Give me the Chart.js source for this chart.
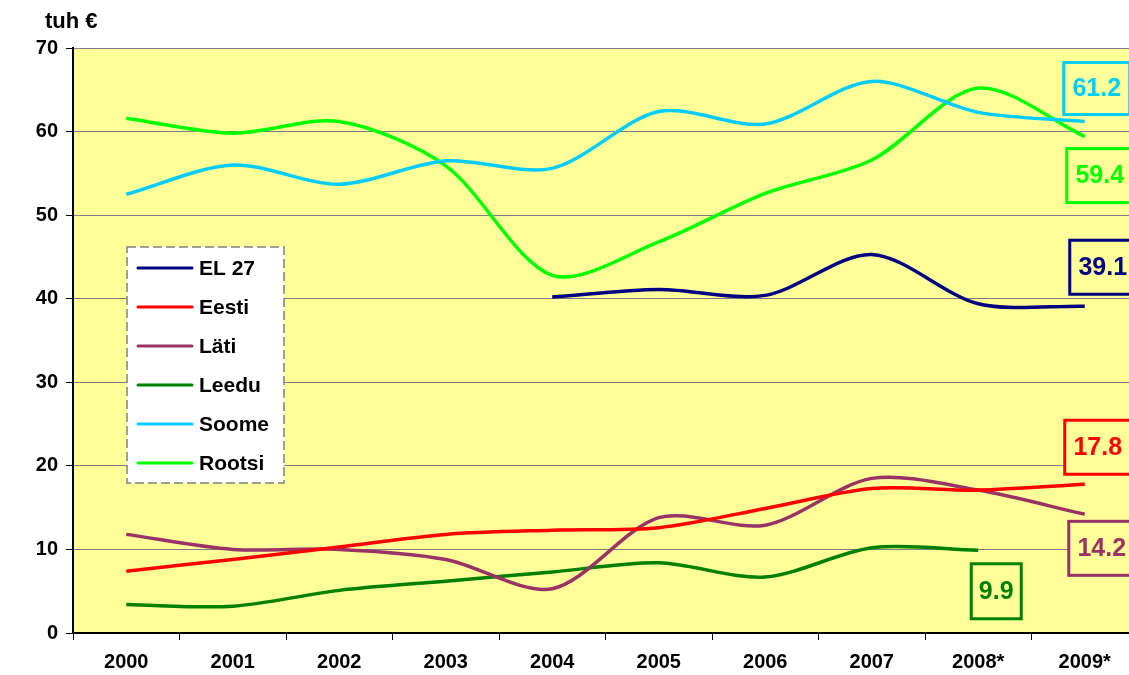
<!DOCTYPE html>
<html>
<head>
<meta charset="utf-8">
<script src="https://cdn.jsdelivr.net/npm/chart.js@4"></script>
<style>
    html, body { margin: 0; padding: 0; background: #fff; overflow: hidden; }
    #wrap { width: 1140px; height: 675px; }
</style>
</head>
<body>
<div id="wrap"><canvas id="lineChart" width="1140" height="675"></canvas></div>
<script>
// Years on the x axis
const years = ['2000', '2001', '2002', '2003', '2004', '2005', '2006', '2007', '2008*', '2009*'];

// Values in thousand euros
const el27   = [null, null, null, null, 40.2, 41.1, 40.4, 45.3, 39.4, 39.1];
const eesti  = [7.4, 8.8, 10.3, 11.8, 12.3, 12.6, 14.9, 17.3, 17.1, 17.8];
const lati   = [11.8, 10.0, 10.0, 8.8, 5.3, 13.8, 12.9, 18.5, 17.1, 14.2];
const leedu  = [3.4, 3.2, 5.1, 6.2, 7.3, 8.4, 6.7, 10.2, 9.9, null];
const soome  = [52.5, 56.0, 53.7, 56.5, 55.6, 62.4, 60.9, 66.0, 62.3, 61.2];
const rootsi = [61.6, 59.8, 61.2, 55.9, 42.8, 46.8, 52.6, 56.6, 65.2, 59.4];

const seriesNames = ['EL 27', 'Eesti', 'Läti', 'Leedu', 'Soome', 'Rootsi'];
const seriesColors = ['#000080', '#FF0000', '#993366', '#008000', '#00CCFF', '#00FF00'];

// where the boxed end value sits, relative to the last point (pixels)
const boxPlacement = [
    { dx: 18, dy: -39, w: 66, h: 54 },
    { dx: 13, dy: -37, w: 66, h: 54 },
    { dx: 17, dy: 34, w: 66, h: 54 },
    { dx: 18, dy: 41, w: 50, h: 55 },
    { dx: 12, dy: -33, w: 66, h: 52 },
    { dx: 15, dy: 39, w: 66, h: 54 }
];

const plotBg = '#FFFF99';
const fontFamily = '"Liberation Sans", Arial, sans-serif';

const plotBackground = {
    id: 'plotBackground',
    beforeDraw(chart) {
        const { ctx, chartArea: a } = chart;
        ctx.save();
        ctx.fillStyle = plotBg;
        ctx.fillRect(a.left, a.top, a.right - a.left, a.bottom - a.top);
        ctx.restore();
    }
};

const extras = {
    id: 'extras',
    afterDatasetsDraw(chart) {
        const ctx = chart.ctx;
        const xs = chart.scales.x, ys = chart.scales.y;
        ctx.save();

        // unit caption
        ctx.fillStyle = '#000';
        ctx.font = 'bold 22px ' + fontFamily;
        ctx.textAlign = 'left';
        ctx.textBaseline = 'middle';
        ctx.fillText('tuh €', 45, 22);

        // boxed end values
        chart.data.datasets.forEach((ds, i) => {
            let last = -1;
            ds.data.forEach((v, j) => { if (v !== null) last = j; });
            if (last < 0) return;
            const p = boxPlacement[i];
            const cx = xs.getPixelForValue(last) + p.dx;
            const cy = ys.getPixelForValue(ds.data[last]) + p.dy;
            ctx.fillStyle = plotBg;
            ctx.fillRect(cx - p.w / 2, cy - p.h / 2, p.w, p.h);
            ctx.lineWidth = 3;
            ctx.strokeStyle = ds.borderColor;
            ctx.strokeRect(cx - p.w / 2, cy - p.h / 2, p.w, p.h);
            ctx.fillStyle = ds.borderColor;
            ctx.font = 'bold 25px ' + fontFamily;
            ctx.textAlign = 'center';
            ctx.textBaseline = 'middle';
            ctx.fillText(ds.data[last].toFixed(1), cx, cy + 1);
        });

        // legend box
        const lx = 127, ly = 247, lw = 157, lh = 236;
        ctx.fillStyle = '#fff';
        ctx.fillRect(lx, ly, lw, lh);
        ctx.setLineDash([9, 4]);
        ctx.lineWidth = 1.5;
        ctx.strokeStyle = '#808080';
        ctx.strokeRect(lx, ly, lw, lh);
        ctx.setLineDash([]);
        chart.data.datasets.forEach((ds, i) => {
            const y = 268 + i * 39;
            ctx.strokeStyle = ds.borderColor;
            ctx.lineWidth = 3;
            ctx.lineCap = 'round';
            ctx.beginPath();
            ctx.moveTo(138, y);
            ctx.lineTo(192, y);
            ctx.stroke();
            ctx.fillStyle = '#000';
            ctx.font = 'bold 21px ' + fontFamily;
            ctx.textAlign = 'left';
            ctx.textBaseline = 'middle';
            ctx.fillText(ds.label, 199, y + 1);
        });
        ctx.restore();
    }
};

const allSeries = [el27, eesti, lati, leedu, soome, rootsi];

const ctx = document.getElementById('lineChart').getContext('2d');
new Chart(ctx, {
    type: 'line',
    data: {
        labels: years,
        datasets: allSeries.map((values, i) => ({
            label: seriesNames[i],
            data: values,
            borderColor: seriesColors[i],
            backgroundColor: seriesColors[i],
            borderWidth: 3.5,
            pointRadius: 0,
            tension: 0.3,
            fill: false
        }))
    },
    options: {
        responsive: false,
        animation: false,
        layout: { padding: { top: 48, left: 0, right: 2, bottom: 0 } },
        plugins: {
            legend: { display: false },
            tooltip: { enabled: false }
        },
        scales: {
            x: {
                offset: true,
                afterFit: function (scale) { scale.height = 42; },
                grid: {
                    offset: true,
                    drawOnChartArea: false,
                    tickLength: 7,
                    tickColor: '#000'
                },
                border: { color: '#000', width: 2 },
                ticks: {
                    color: '#000',
                    font: { family: fontFamily, size: 20, weight: 'bold' },
                    padding: 10,
                    maxRotation: 0,
                    autoSkip: false
                }
            },
            y: {
                min: 0,
                max: 70,
                afterFit: function (scale) { scale.width = 73; },
                grid: {
                    color: '#808080',
                    lineWidth: 1,
                    tickLength: 7,
                    tickColor: '#000'
                },
                border: { color: '#000', width: 2 },
                ticks: {
                    stepSize: 10,
                    color: '#000',
                    padding: 8,
                    font: { family: fontFamily, size: 20, weight: 'bold' }
                }
            }
        }
    },
    plugins: [plotBackground, extras]
});
</script>
</body>
</html>
